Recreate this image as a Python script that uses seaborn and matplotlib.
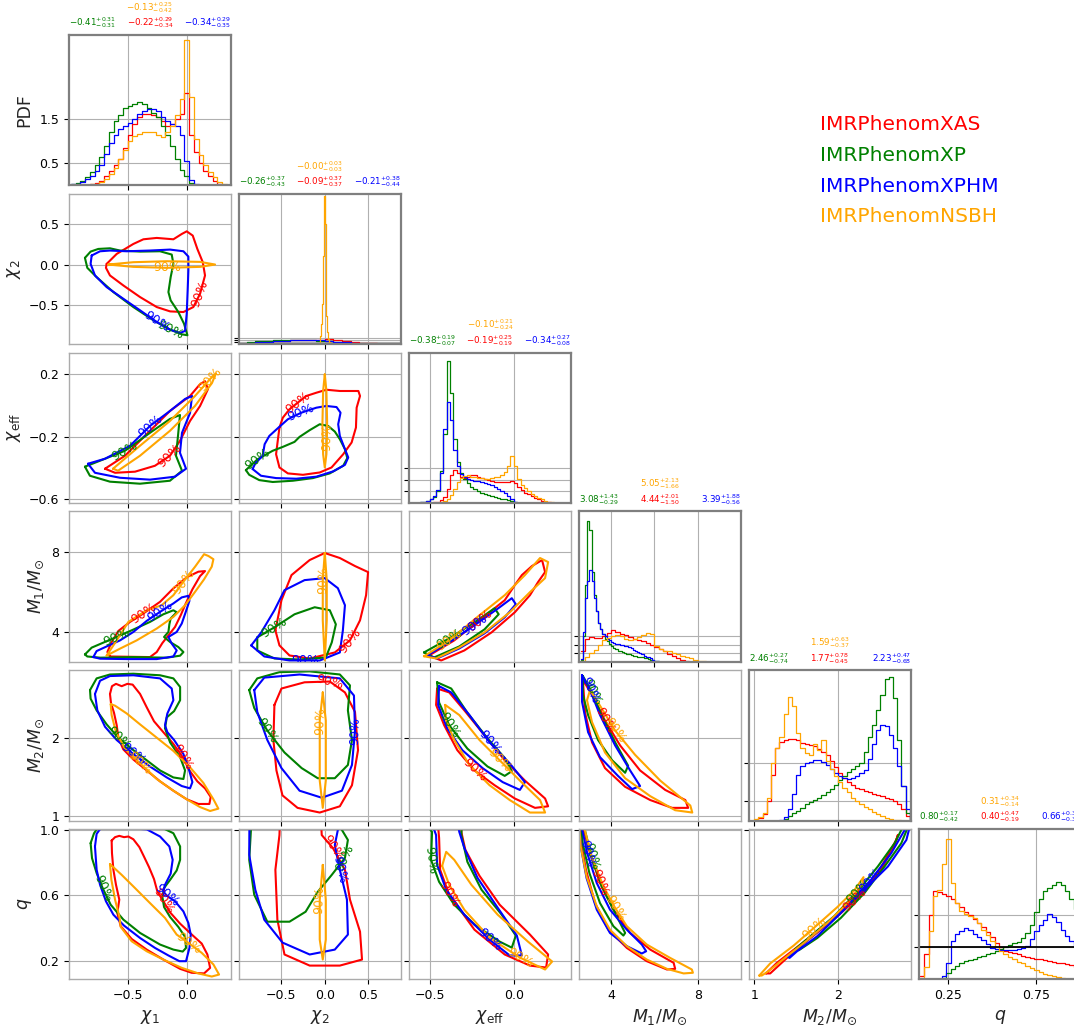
import numpy as np
import pandas as pd
import matplotlib
matplotlib.use("Agg")
import matplotlib.pyplot as plt
import seaborn as sns

sns.set_style("ticks")
plt.rcParams["font.family"] = ["DejaVu Sans"]
plt.rcParams["mathtext.fontset"] = "dejavusans"

# ---------------------------------------------------------------- data
KEYS = ["XAS", "XP", "XPHM", "NSBH"]
LEGEND_NAMES = ["IMRPhenomXAS", "IMRPhenomXP", "IMRPhenomXPHM", "IMRPhenomNSBH"]
SERIES_COLORS = ["red", "green", "blue", "orange"]
PARAM_LABELS = [r"$\chi_1$", r"$\chi_2$", r"$\chi_{\rm eff}$",
                r"$M_1/M_{\odot}$", r"$M_2/M_{\odot}$", r"$q$"]

# median, +upper, -lower
SUM_CHI1 = {"XAS": (-0.22, 0.29, 0.34), "XP": (-0.41, 0.31, 0.31),
            "XPHM": (-0.34, 0.29, 0.35), "NSBH": (-0.13, 0.25, 0.42)}
SUM_CHI2 = {"XAS": (-0.09, 0.37, 0.37), "XP": (-0.26, 0.37, 0.43),
            "XPHM": (-0.21, 0.38, 0.44), "NSBH": (-0.001, 0.03, 0.03)}
SUM_CHIEFF = {"XAS": (-0.19, 0.25, 0.19), "XP": (-0.38, 0.19, 0.07),
              "XPHM": (-0.34, 0.27, 0.08), "NSBH": (-0.10, 0.21, 0.24)}
SUM_M1 = {"XAS": (4.44, 2.01, 1.50), "XP": (3.08, 1.43, 0.29),
          "XPHM": (3.39, 1.88, 0.56), "NSBH": (5.05, 2.13, 1.66)}
SUM_M2 = {"XAS": (1.77, 0.78, 0.45), "XP": (2.46, 0.27, 0.74),
          "XPHM": (2.23, 0.47, 0.68), "NSBH": (1.59, 0.63, 0.37)}
SUM_Q = {"XAS": (0.40, 0.47, 0.19), "XP": (0.80, 0.17, 0.42),
         "XPHM": (0.66, 0.31, 0.38), "NSBH": (0.31, 0.34, 0.14)}

# histograms: (first bin edge, last bin edge, heights)
H_CHI1 = {
    "XAS": (-0.98, 0.38, [0, 0, 0, 0.01, 0.02, 0.05, 0.10, 0.20, 0.32, 0.45, 0.60, 0.85, 1.15, 1.40, 1.55, 1.62, 1.62,
                          1.60, 1.55, 1.45, 1.35, 1.40, 1.50, 1.62, 2.10, 1.15, 0.75, 0.50, 0.32, 0.20, 0.10, 0.03, 0.0, 0.0]),
    "XP": (-0.98, 0.38, [0.02, 0.05, 0.10, 0.18, 0.30, 0.45, 0.65, 0.90, 1.20, 1.45, 1.60, 1.75, 1.80, 1.85, 1.90, 1.85,
                         1.75, 1.65, 1.55, 1.35, 1.15, 0.90, 0.60, 0.35, 0.20, 0.05, 0.0, 0, 0, 0, 0, 0, 0, 0]),
    "XPHM": (-0.98, 0.38, [0.02, 0.04, 0.08, 0.14, 0.22, 0.32, 0.45, 0.70, 0.95, 1.15, 1.28, 1.35, 1.42, 1.50, 1.62, 1.68,
                           1.74, 1.72, 1.68, 1.55, 1.45, 1.40, 1.35, 1.15, 0.55, 0.12, 0.02, 0, 0, 0, 0, 0, 0, 0]),
    "NSBH": (-0.98, 0.38, [0, 0, 0, 0, 0.02, 0.04, 0.08, 0.15, 0.25, 0.40, 0.60, 0.80, 1.00, 1.12, 1.17, 1.20, 1.22, 1.20,
                           1.15, 1.10, 1.20, 1.35, 1.60, 1.95, 3.30, 2.00, 1.05, 0.68, 0.45, 0.30, 0.18, 0.08, 0.02, 0]),
}
H_CHI2 = {
    "XAS": (-1.0, 0.9, [0.03, 0.10, 0.25, 0.45, 0.65, 0.80, 0.90, 0.95, 0.98, 1.00, 1.30, 0.90, 0.75, 0.55, 0.35, 0.20,
                        0.08, 0.03, 0]),
    "XP": (-1.0, 0.9, [0.13, 0.40, 0.68, 0.88, 1.00, 1.08, 1.08, 1.05, 0.97, 0.88, 0.68, 0.47, 0.27, 0.14, 0.07, 0.03,
                       0, 0, 0]),
    "XPHM": (-1.0, 0.9, [0.08, 0.25, 0.45, 0.60, 0.75, 0.85, 0.90, 0.92, 0.92, 0.95, 0.85, 0.60, 0.40, 0.25, 0.12, 0.05,
                         0.02, 0, 0]),
    "NSBH": (-0.08, 0.08, [0.1, 0.3, 0.8, 2, 5, 10, 22, 37, 30, 16, 7, 3, 1.2, 0.5, 0.2, 0.1]),
}
H_CHIEFF = {
    "XAS": (-0.50, 0.24, [0.01, 0.03, 0.06, 0.12, 0.25, 0.60, 1.20, 1.45, 1.30, 1.15, 1.10, 1.15, 1.20, 1.22, 1.15, 1.08,
                          1.02, 0.98, 0.95, 0.92, 0.90, 0.90, 0.90, 0.92, 0.95, 0.85, 0.68, 0.55, 0.45, 0.38, 0.30, 0.22,
                          0.15, 0.10, 0.06, 0.03, 0.01]),
    "XP": (-0.56, 0.04, [0.02, 0.05, 0.10, 0.15, 0.25, 0.50, 1.40, 3.00, 6.20, 4.80, 2.80, 1.80, 1.30, 1.05, 0.85, 0.70,
                         0.60, 0.50, 0.42, 0.38, 0.33, 0.30, 0.26, 0.22, 0.18, 0.15, 0.12, 0.08, 0.04, 0.01]),
    "XPHM": (-0.56, 0.04, [0.02, 0.04, 0.08, 0.15, 0.30, 0.55, 1.30, 3.20, 4.40, 3.60, 2.30, 1.60, 1.25, 1.12, 1.05, 1.00,
                           0.97, 0.95, 0.92, 0.88, 0.82, 0.76, 0.70, 0.62, 0.52, 0.42, 0.30, 0.15, 0.06, 0.01]),
    "NSBH": (-0.46, 0.26, [0.01, 0.03, 0.08, 0.18, 0.35, 0.60, 0.90, 1.10, 1.18, 1.20, 1.15, 1.12, 1.10, 1.08, 1.05, 1.05,
                           1.08, 1.12, 1.15, 1.20, 1.35, 1.60, 2.05, 1.60, 1.05, 0.80, 0.65, 0.50, 0.38, 0.30, 0.22, 0.15,
                           0.10, 0.05, 0.02, 0.01]),
}
H_M1 = {
    "XAS": (2.6, 7.6, [0.12, 0.27, 0.29, 0.28, 0.28, 0.30, 0.34, 0.37, 0.35, 0.33, 0.31, 0.29, 0.27, 0.25, 0.24, 0.22,
                       0.20, 0.17, 0.15, 0.12, 0.095, 0.07, 0.045, 0.025, 0.01]),
    "XP": (2.6, 6.2, [0.02, 0.30, 0.90, 1.65, 1.55, 1.05, 0.78, 0.60, 0.45, 0.38, 0.32, 0.27, 0.24, 0.21, 0.18, 0.16,
                      0.15, 0.13, 0.12, 0.11, 0.10, 0.09, 0.085, 0.08, 0.07, 0.065, 0.06, 0.055, 0.05, 0.045, 0.04,
                      0.035, 0.025, 0.018, 0.01, 0.005]),
    "XPHM": (2.6, 6.2, [0.03, 0.35, 0.75, 0.95, 1.08, 0.95, 0.75, 0.60, 0.45, 0.38, 0.33, 0.30, 0.27, 0.25, 0.23, 0.22,
                        0.21, 0.21, 0.20, 0.20, 0.19, 0.18, 0.17, 0.16, 0.14, 0.13, 0.11, 0.10, 0.09, 0.07, 0.06, 0.05,
                        0.04, 0.025, 0.012, 0.004]),
    "NSBH": (2.6, 8.6, [0.01, 0.06, 0.10, 0.14, 0.20, 0.25, 0.28, 0.30, 0.31, 0.30, 0.27, 0.25, 0.27, 0.29, 0.31, 0.34,
                        0.32, 0.18, 0.15, 0.13, 0.12, 0.10, 0.09, 0.07, 0.055, 0.04, 0.02, 0.01, 0.005, 0.002]),
}
H_M2 = {
    "XAS": (0.95, 2.9, [0, 0.01, 0.03, 0.08, 0.25, 0.60, 0.95, 1.03, 1.06, 1.07, 1.07, 1.05, 1.02, 1.00, 0.99, 0.97,
                        0.94, 0.90, 0.86, 0.78, 0.70, 0.62, 0.56, 0.50, 0.46, 0.43, 0.41, 0.39, 0.37, 0.35, 0.33, 0.32,
                        0.30, 0.28, 0.26, 0.22, 0.15, 0.06, 0.01]),
    "XP": (0.95, 2.9, [0, 0, 0, 0, 0, 0, 0, 0, 0.02, 0.06, 0.10, 0.13, 0.17, 0.21, 0.24, 0.27, 0.30, 0.33, 0.37, 0.41,
                       0.47, 0.53, 0.58, 0.63, 0.68, 0.72, 0.76, 0.90, 1.10, 1.25, 1.45, 1.65, 1.85, 1.88, 1.60, 1.05,
                       0.45, 0.10, 0.01]),
    "XPHM": (0.95, 2.9, [0, 0, 0, 0, 0, 0, 0, 0.01, 0.05, 0.15, 0.35, 0.60, 0.72, 0.75, 0.77, 0.79, 0.79, 0.77, 0.73,
                         0.68, 0.62, 0.58, 0.56, 0.55, 0.56, 0.58, 0.62, 0.66, 0.80, 1.00, 1.18, 1.25, 1.24, 1.12, 0.95,
                         0.72, 0.45, 0.15, 0.02]),
    "NSBH": (0.95, 2.9, [0, 0.02, 0.04, 0.10, 0.30, 0.75, 0.95, 1.10, 1.40, 1.62, 1.50, 1.15, 0.95, 0.88, 0.86, 1.00,
                         0.92, 1.05, 0.78, 0.68, 0.58, 0.50, 0.42, 0.37, 0.30, 0.25, 0.22, 0.18, 0.15, 0.11, 0.08, 0.06,
                         0.03, 0.015, 0.01, 0.005, 0, 0, 0]),
}
H_Q = {
    "XAS": (0.09, 1.015, [0.10, 0.80, 2.00, 2.75, 2.72, 2.68, 2.60, 2.50, 2.38, 2.25, 2.12, 2.00, 1.88, 1.75, 1.62, 1.48,
                          1.32, 1.15, 1.00, 0.90, 0.85, 0.82, 0.78, 0.74, 0.71, 0.68, 0.65, 0.62, 0.60, 0.57, 0.55, 0.52,
                          0.50, 0.47, 0.44, 0.40, 0.38]),
    "XP": (0.09, 1.015, [0, 0, 0, 0, 0, 0.05, 0.20, 0.32, 0.42, 0.50, 0.56, 0.60, 0.65, 0.70, 0.74, 0.78, 0.82, 0.88,
                         0.94, 1.00, 1.07, 1.12, 1.17, 1.30, 1.45, 1.70, 2.10, 2.50, 2.75, 2.85, 2.95, 3.05, 2.95, 2.75,
                         2.50, 2.20, 1.90]),
    "XPHM": (0.09, 1.015, [0, 0, 0, 0, 0.02, 0.10, 0.50, 1.20, 1.42, 1.52, 1.60, 1.55, 1.42, 1.33, 1.22, 1.10, 0.98, 0.95,
                           0.93, 0.92, 0.92, 0.93, 0.94, 0.98, 1.05, 1.25, 1.50, 1.70, 1.85, 2.05, 1.95, 1.80, 1.55, 1.35,
                           1.20, 1.05, 0.90]),
    "NSBH": (0.09, 1.015, [0.05, 0.40, 1.50, 2.60, 2.80, 3.60, 4.40, 3.00, 2.40, 2.15, 2.05, 1.98, 1.92, 1.75, 1.55, 1.38,
                           1.20, 1.02, 0.90, 0.80, 0.70, 0.62, 0.55, 0.50, 0.42, 0.35, 0.29, 0.23, 0.18, 0.14, 0.10, 0.07,
                           0.04, 0.02, 0.01, 0, 0]),
}

# 90% credible contours (x, y)
CT_CHI2_CHI1 = {
    "XAS": [(-0.678, 0.008), (-0.593, 0.132), (-0.452, 0.256), (-0.367, 0.314), (-0.254, 0.331), (-0.113, 0.314),
            (-0.042, 0.380), (0.0, 0.413), (0.051, 0.36), (0.090, 0.194), (0.136, 0.029), (0.155, -0.136),
            (0.113, -0.364), (0.056, -0.529), (-0.028, -0.591), (-0.141, -0.583), (-0.254, -0.529), (-0.395, -0.405),
            (-0.537, -0.260), (-0.650, -0.136), (-0.684, -0.041)],
    "XP": [(-0.862, 0.083), (-0.814, 0.161), (-0.749, 0.194), (-0.650, 0.202), (-0.565, 0.174), (-0.395, 0.161),
           (-0.226, 0.165), (-0.127, 0.124), (-0.113, 0.008), (-0.136, -0.157), (-0.155, -0.343), (-0.136, -0.446),
           (-0.071, -0.591), (-0.023, -0.736), (0.006, -0.880), (-0.042, -0.868), (-0.141, -0.810), (-0.282, -0.694),
           (-0.452, -0.529), (-0.621, -0.343), (-0.763, -0.157), (-0.842, -0.041)],
    "XPHM": [(-0.805, 0.112), (-0.734, 0.165), (-0.650, 0.174), (-0.508, 0.165), (-0.311, 0.174), (-0.141, 0.186),
             (-0.028, 0.165), (0.014, 0.099), (0.014, -0.074), (0.008, -0.322), (0.0, -0.612), (-0.014, -0.826),
             (-0.056, -0.851), (-0.141, -0.810), (-0.254, -0.715), (-0.395, -0.570), (-0.537, -0.426), (-0.678, -0.281),
             (-0.777, -0.136), (-0.814, 0.008)],
    "NSBH": [(-0.664, 0.0), (-0.452, 0.029), (-0.169, 0.041), (0.113, 0.033), (0.240, 0.0), (0.113, -0.029),
             (-0.169, -0.041), (-0.452, -0.029)],
}
CT_CHIEFF_CHI1 = {
    "XAS": [(-0.692, -0.404), (-0.523, -0.321), (-0.311, -0.161), (-0.142, -0.034), (0.028, 0.062), (0.113, 0.138),
            (0.155, 0.157), (0.180, 0.106), (0.113, -0.002), (0.028, -0.098), (-0.057, -0.225), (-0.142, -0.321),
            (-0.269, -0.385), (-0.438, -0.423), (-0.607, -0.430)],
    "XP": [(-0.862, -0.391), (-0.735, -0.353), (-0.523, -0.289), (-0.311, -0.174), (-0.142, -0.085), (-0.057, -0.060),
           (-0.074, -0.194), (-0.091, -0.321), (-0.040, -0.417), (-0.142, -0.481), (-0.396, -0.500), (-0.650, -0.487),
           (-0.820, -0.449)],
    "XPHM": [(-0.836, -0.372), (-0.692, -0.340), (-0.480, -0.257), (-0.311, -0.130), (-0.142, -0.034), (-0.014, 0.043),
             (0.045, 0.062), (0.028, -0.047), (-0.040, -0.174), (-0.057, -0.302), (-0.006, -0.404), (-0.099, -0.455),
             (-0.311, -0.474), (-0.565, -0.462), (-0.777, -0.430)],
    "NSBH": [(-0.624, -0.404), (-0.396, -0.257), (-0.142, -0.098), (0.070, 0.062), (0.197, 0.170), (0.248, 0.208),
             (0.214, 0.145), (0.070, -0.002), (-0.142, -0.161), (-0.396, -0.321), (-0.582, -0.417)],
}
CT_CHIEFF_CHI2 = {
    "XAS": [(-0.523, -0.140), (-0.484, -0.077), (-0.407, -0.023), (-0.31, 0.02), (-0.213, 0.062), (-0.097, 0.083),
            (0.019, 0.102), (0.174, 0.094), (0.388, 0.094), (0.407, 0.062), (0.368, -0.013), (0.360, -0.140),
            (0.310, -0.236), (0.213, -0.311), (0.078, -0.396), (-0.058, -0.428), (-0.252, -0.443), (-0.426, -0.434),
            (-0.523, -0.396), (-0.562, -0.311), (-0.543, -0.226)],
    "XP": [(-0.911, -0.413), (-0.775, -0.343), (-0.601, -0.289), (-0.484, -0.264), (-0.349, -0.232), (-0.291, -0.200),
           (-0.174, -0.157), (-0.058, -0.119), (0.039, -0.130), (0.116, -0.166), (0.174, -0.215), (0.233, -0.279),
           (0.260, -0.336), (0.213, -0.385), (0.058, -0.434), (-0.136, -0.464), (-0.368, -0.481), (-0.601, -0.489),
           (-0.756, -0.477), (-0.872, -0.443)],
    "XPHM": [(-0.833, -0.406), (-0.802, -0.370), (-0.717, -0.321), (-0.694, -0.247), (-0.640, -0.194), (-0.543, -0.145),
             (-0.426, -0.087), (-0.271, -0.045), (-0.097, -0.013), (0.019, -0.002), (0.136, -0.009), (0.182, -0.045),
             (0.155, -0.119), (0.174, -0.194), (0.233, -0.279), (0.271, -0.332), (0.233, -0.379), (0.097, -0.421),
             (-0.097, -0.455), (-0.329, -0.468), (-0.562, -0.464), (-0.736, -0.449)],
    "NSBH": [(0.0, 0.2), (0.019, 0.094), (0.027, -0.1), (0.025, -0.2), (0.019, -0.311), (0.0, -0.396), (-0.019, -0.311),
             (-0.027, -0.119), (-0.019, 0.094)],
}
CT_M1_CHI1 = {
    "XAS": [(-0.650, 2.78), (-0.311, 2.75), (-0.254, 3.00), (-0.206, 3.45), (-0.155, 3.83), (-0.099, 4.25),
            (-0.051, 4.83), (-0.008, 5.42), (0.048, 6.12), (0.113, 6.78), (0.155, 7.03), (0.099, 7.00), (0.0, 6.72),
            (-0.113, 6.17), (-0.226, 5.50), (-0.367, 4.92), (-0.480, 4.50), (-0.579, 4.05), (-0.636, 3.50),
            (-0.672, 3.00)],
    "XP": [(-0.862, 2.88), (-0.805, 3.22), (-0.706, 3.47), (-0.593, 3.75), (-0.452, 4.12), (-0.311, 4.50),
           (-0.198, 4.88), (-0.113, 5.08), (-0.085, 4.98), (-0.136, 4.67), (-0.147, 4.38), (-0.155, 4.00),
           (-0.192, 3.75), (-0.141, 3.50), (-0.071, 3.25), (-0.028, 3.00), (-0.056, 2.82), (-0.169, 2.72),
           (-0.452, 2.75), (-0.734, 2.72), (-0.842, 2.78)],
    "XPHM": [(-0.791, 2.75), (-0.763, 3.05), (-0.678, 3.28), (-0.565, 3.58), (-0.452, 4.00), (-0.339, 4.55),
             (-0.226, 5.00), (-0.113, 5.42), (-0.042, 5.72), (0.014, 5.80), (0.023, 5.55), (-0.008, 5.00),
             (-0.042, 4.42), (-0.085, 4.00), (-0.155, 3.75), (-0.127, 3.42), (-0.085, 3.08), (-0.113, 2.78),
             (-0.254, 2.65), (-0.508, 2.65), (-0.734, 2.67)],
    "NSBH": [(-0.678, 2.83), (-0.593, 3.58), (-0.494, 4.50), (-0.339, 5.08), (-0.212, 5.33), (-0.113, 5.83),
             (-0.028, 6.50), (0.071, 7.25), (0.147, 7.87), (0.184, 7.78), (0.226, 7.62), (0.212, 7.25), (0.147, 6.62),
             (0.071, 6.00), (-0.014, 5.33), (-0.113, 4.75), (-0.254, 4.17), (-0.424, 3.58), (-0.565, 3.17),
             (-0.664, 2.87)],
}
CT_M1_CHI2 = {
    "XAS": [(-0.570, 4.08), (-0.50, 5.58), (-0.384, 6.83), (-0.174, 7.58), (0.0, 7.93), (0.174, 7.68), (0.349, 7.28),
            (0.50, 6.98), (0.477, 5.83), (0.407, 4.58), (0.291, 3.58), (0.116, 2.98), (-0.174, 2.68), (-0.407, 2.83),
            (-0.523, 3.33)],
    "XP": [(-0.779, 3.73), (-0.581, 4.23), (-0.349, 4.88), (-0.116, 5.23), (0.058, 5.08), (0.128, 4.38), (0.081, 3.48),
           (0.012, 2.73), (-0.291, 2.63), (-0.581, 2.68), (-0.779, 3.08)],
    "XPHM": [(-0.849, 3.33), (-0.733, 3.98), (-0.581, 5.08), (-0.465, 6.08), (-0.233, 6.58), (0.0, 6.68), (0.151, 6.18),
             (0.233, 5.33), (0.209, 4.08), (0.174, 2.98), (-0.058, 2.58), (-0.23, 2.58), (-0.407, 2.58),
             (-0.698, 2.78)],
    "NSBH": [(0.0, 7.93), (0.023, 6.58), (0.023, 4.58), (0.0, 2.58), (-0.023, 4.58), (-0.023, 6.58)],
}
CT_M1_CHIEFF = {
    "XAS": [(-0.504, 2.83), (-0.354, 3.58), (-0.204, 4.58), (-0.054, 5.58), (0.006, 6.33), (0.048, 6.83), (0.108, 7.28),
            (0.168, 7.58), (0.186, 6.98), (0.144, 6.48), (0.096, 5.83), (0.006, 4.98), (-0.132, 3.98), (-0.294, 3.08),
            (-0.432, 2.58)],
    "XP": [(-0.534, 2.98), (-0.384, 3.68), (-0.234, 4.48), (-0.114, 5.18), (-0.090, 4.88), (-0.174, 4.13),
           (-0.324, 3.28), (-0.474, 2.73)],
    "XPHM": [(-0.516, 2.83), (-0.384, 3.48), (-0.234, 4.33), (-0.084, 5.23), (-0.012, 5.68), (0.012, 5.38),
             (-0.054, 4.73), (-0.174, 3.93), (-0.324, 3.18), (-0.456, 2.68)],
    "NSBH": [(-0.534, 2.79), (-0.384, 3.58), (-0.204, 4.83), (-0.054, 5.83), (0.066, 6.83), (0.156, 7.68),
             (0.204, 7.48), (0.186, 6.68), (0.096, 5.98), (-0.024, 4.98), (-0.174, 3.98), (-0.324, 3.23),
             (-0.462, 2.68)],
}
CT_M2_CHI1 = {
    "XAS": [(-0.650, 2.56), (-0.633, 2.66), (-0.599, 2.69), (-0.551, 2.66), (-0.503, 2.69), (-0.458, 2.68),
            (-0.395, 2.56), (-0.339, 2.39), (-0.277, 2.21), (-0.198, 2.07), (-0.113, 1.92), (-0.034, 1.75),
            (0.023, 1.58), (0.090, 1.44), (0.155, 1.35), (0.203, 1.24), (0.192, 1.15), (0.099, 1.15), (0.0, 1.21),
            (-0.113, 1.32), (-0.226, 1.44), (-0.339, 1.58), (-0.452, 1.72), (-0.537, 1.85), (-0.579, 2.00),
            (-0.593, 2.16), (-0.616, 2.32), (-0.641, 2.44)],
    "XP": [(-0.819, 2.61), (-0.763, 2.76), (-0.650, 2.81), (-0.452, 2.82), (-0.226, 2.80), (-0.113, 2.76),
           (-0.056, 2.65), (-0.056, 2.48), (-0.107, 2.34), (-0.169, 2.26), (-0.184, 2.12), (-0.141, 1.94),
           (-0.056, 1.75), (-0.014, 1.58), (-0.028, 1.47), (-0.113, 1.49), (-0.226, 1.58), (-0.339, 1.71),
           (-0.452, 1.84), (-0.579, 2.00), (-0.678, 2.17), (-0.763, 2.35), (-0.814, 2.50)],
    "XPHM": [(-0.777, 2.56), (-0.734, 2.73), (-0.650, 2.79), (-0.452, 2.80), (-0.226, 2.76), (-0.127, 2.63),
             (-0.113, 2.48), (-0.164, 2.31), (-0.184, 2.16), (-0.164, 2.07), (-0.107, 1.97), (-0.028, 1.79),
             (0.014, 1.62), (0.048, 1.43), (0.028, 1.35), (-0.042, 1.38), (-0.169, 1.49), (-0.311, 1.63),
             (-0.452, 1.79), (-0.593, 1.97), (-0.692, 2.14), (-0.757, 2.35)],
    "NSBH": [(-0.644, 2.43), (-0.607, 2.41), (-0.508, 2.31), (-0.395, 2.17), (-0.254, 2.00), (-0.113, 1.83),
             (0.028, 1.62), (0.141, 1.42), (0.226, 1.21), (0.268, 1.09), (0.198, 1.06), (0.113, 1.11), (0.0, 1.21),
             (-0.113, 1.32), (-0.254, 1.47), (-0.395, 1.67), (-0.523, 1.86), (-0.599, 2.07), (-0.636, 2.29)],
}
CT_M2_CHI2 = {
    "XAS": [(-0.581, 2.42), (-0.50, 2.63), (-0.233, 2.71), (0.058, 2.72), (0.233, 2.58), (0.349, 2.33), (0.384, 1.84),
            (0.314, 1.39), (0.174, 1.12), (-0.058, 1.04), (-0.314, 1.10), (-0.488, 1.26), (-0.558, 1.58),
            (-0.593, 1.97)],
    "XP": [(-0.872, 2.61), (-0.779, 2.76), (-0.523, 2.84), (-0.174, 2.85), (0.174, 2.81), (0.291, 2.67), (0.267, 2.35),
           (0.314, 1.97), (0.267, 1.65), (0.116, 1.48), (-0.081, 1.48), (-0.267, 1.61), (-0.465, 1.81),
           (-0.663, 2.09), (-0.814, 2.38)],
    "XPHM": [(-0.814, 2.61), (-0.698, 2.77), (-0.291, 2.81), (0.174, 2.76), (0.337, 2.54), (0.349, 2.09), (0.314, 1.65),
             (0.198, 1.32), (-0.035, 1.23), (-0.291, 1.32), (-0.50, 1.61), (-0.663, 1.97), (-0.779, 2.33)],
    "NSBH": [(-0.023, 2.58), (0.012, 2.22), (0.012, 1.45), (-0.023, 1.10), (-0.058, 1.45), (-0.058, 2.22)],
}
CT_M2_CHIEFF = {
    "XAS": [(-0.456, 2.63), (-0.384, 2.58), (-0.294, 2.35), (-0.174, 2.03), (-0.054, 1.71), (0.066, 1.45),
            (0.186, 1.22), (0.204, 1.12), (0.126, 1.10), (0.006, 1.22), (-0.114, 1.39), (-0.234, 1.58),
            (-0.336, 1.84), (-0.414, 2.16), (-0.462, 2.42)],
    "XP": [(-0.456, 2.71), (-0.372, 2.63), (-0.276, 2.32), (-0.156, 1.99), (-0.054, 1.74), (-0.012, 1.57),
           (-0.054, 1.51), (-0.156, 1.63), (-0.276, 1.86), (-0.384, 2.16), (-0.444, 2.45)],
    "XPHM": [(-0.444, 2.66), (-0.372, 2.58), (-0.264, 2.29), (-0.144, 1.94), (-0.024, 1.67), (0.066, 1.43),
             (0.036, 1.33), (-0.066, 1.43), (-0.186, 1.61), (-0.306, 1.84), (-0.396, 2.12), (-0.450, 2.42)],
    "NSBH": [(-0.408, 2.42), (-0.324, 2.29), (-0.204, 1.97), (-0.084, 1.71), (0.036, 1.45), (0.156, 1.20),
             (0.186, 1.04), (0.096, 1.04), (-0.024, 1.20), (-0.144, 1.39), (-0.264, 1.65), (-0.354, 1.97),
             (-0.402, 2.22)],
}
CT_M2_M1 = {
    "XAS": [(2.70, 2.74), (3.12, 2.55), (3.72, 2.22), (4.42, 1.90), (5.34, 1.58), (6.50, 1.33), (7.43, 1.20),
            (7.56, 1.10), (6.82, 1.10), (5.81, 1.20), (4.65, 1.37), (3.72, 1.61), (3.12, 1.94), (2.80, 2.32)],
    "XP": [(2.70, 2.79), (3.12, 2.58), (3.63, 2.25), (4.19, 1.94), (4.79, 1.64), (4.65, 1.55), (4.05, 1.71),
           (3.40, 1.97), (2.94, 2.29), (2.70, 2.55)],
    "XPHM": [(2.66, 2.80), (3.03, 2.61), (3.49, 2.29), (4.19, 1.90), (4.88, 1.58), (5.34, 1.38), (4.97, 1.34),
             (4.32, 1.51), (3.49, 1.75), (2.94, 2.07), (2.66, 2.46)],
    "NSBH": [(3.03, 2.61), (3.49, 2.41), (4.19, 2.09), (5.11, 1.78), (6.27, 1.45), (7.66, 1.13), (7.75, 1.04),
             (6.96, 1.07), (5.81, 1.25), (4.65, 1.48), (3.72, 1.81), (3.12, 2.20), (2.89, 2.48)],
}
CT_Q_CHI1 = {
    "XAS": [(-0.636, 0.935), (-0.607, 0.956), (-0.571, 0.964), (-0.531, 0.956), (-0.494, 0.960), (-0.452, 0.943),
            (-0.401, 0.895), (-0.362, 0.837), (-0.319, 0.772), (-0.277, 0.699), (-0.249, 0.624), (-0.198, 0.563),
            (-0.136, 0.491), (-0.056, 0.426), (0.028, 0.369), (0.127, 0.304), (0.175, 0.237), (0.198, 0.155),
            (0.147, 0.121), (0.042, 0.125), (-0.056, 0.149), (-0.198, 0.206), (-0.339, 0.267), (-0.466, 0.332),
            (-0.559, 0.410), (-0.588, 0.491), (-0.571, 0.573), (-0.599, 0.664), (-0.621, 0.756), (-0.633, 0.858)],
    "XP": [(-0.814, 0.919), (-0.785, 0.980), (-0.746, 1.02), (-0.593, 1.02), (-0.226, 1.02), (-0.113, 0.980),
           (-0.056, 0.899), (-0.056, 0.817), (-0.085, 0.752), (-0.136, 0.699), (-0.192, 0.644), (-0.206, 0.589),
           (-0.192, 0.528), (-0.141, 0.467), (-0.071, 0.406), (-0.014, 0.345), (-0.006, 0.277), (-0.034, 0.255),
           (-0.113, 0.267), (-0.226, 0.298), (-0.395, 0.369), (-0.537, 0.451), (-0.644, 0.542), (-0.712, 0.644),
           (-0.763, 0.736), (-0.802, 0.827)],
    "XPHM": [(-0.777, 0.899), (-0.763, 0.976), (-0.720, 1.02), (-0.339, 1.004), (-0.226, 0.960), (-0.147, 0.899),
             (-0.119, 0.817), (-0.136, 0.732), (-0.184, 0.664), (-0.198, 0.624), (-0.169, 0.597), (-0.099, 0.563),
             (-0.028, 0.501), (0.014, 0.430), (0.034, 0.359), (0.023, 0.277), (-0.006, 0.196), (-0.062, 0.196),
             (-0.155, 0.231), (-0.268, 0.277), (-0.395, 0.338), (-0.531, 0.414), (-0.621, 0.481), (-0.684, 0.563),
             (-0.734, 0.664), (-0.763, 0.756)],
    "NSBH": [(-0.650, 0.791), (-0.551, 0.725), (-0.438, 0.644), (-0.311, 0.552), (-0.184, 0.461), (-0.085, 0.359),
             (0.014, 0.308), (0.127, 0.247), (0.226, 0.176), (0.274, 0.114), (0.212, 0.102), (0.099, 0.121),
             (-0.042, 0.155), (-0.198, 0.206), (-0.339, 0.257), (-0.466, 0.318), (-0.559, 0.406), (-0.571, 0.471),
             (-0.607, 0.573), (-0.638, 0.695)],
}
CT_Q_CHI2 = {
    "XAS": [(-0.52, 1.02), (-0.523, 0.969), (-0.570, 0.756), (-0.547, 0.450), (-0.465, 0.237), (-0.174, 0.169),
            (0.174, 0.169), (0.430, 0.206), (0.407, 0.377), (0.291, 0.573), (0.233, 0.756), (0.093, 0.890),
            (-0.035, 0.969), (-0.04, 1.02)],
    "XP": [(-0.85, 1.02), (-0.872, 0.817), (-0.814, 0.603), (-0.663, 0.438), (-0.407, 0.438), (-0.221, 0.499),
           (-0.081, 0.621), (0.081, 0.725), (0.233, 0.829), (0.267, 0.939), (0.198, 1.0), (0.2, 1.02)],
    "XPHM": [(-0.87, 1.02), (-0.872, 0.847), (-0.802, 0.634), (-0.698, 0.450), (-0.488, 0.310), (-0.174, 0.237),
             (0.116, 0.267), (0.267, 0.359), (0.256, 0.573), (0.174, 0.756), (0.116, 0.908), (0.151, 1.0),
             (0.15, 1.02)],
    "NSBH": [(-0.023, 0.786), (0.012, 0.573), (0.012, 0.328), (-0.023, 0.206), (-0.058, 0.328), (-0.058, 0.573)],
}
CT_Q_CHIEFF = {
    "XAS": [(-0.45, 1.02), (-0.444, 0.951), (-0.438, 0.756), (-0.384, 0.603), (-0.234, 0.389), (-0.054, 0.237),
            (0.096, 0.169), (0.192, 0.157), (0.204, 0.237), (0.096, 0.359), (-0.084, 0.542), (-0.204, 0.719),
            (-0.288, 0.878), (-0.312, 0.988), (-0.31, 1.02)],
    "XP": [(-0.51, 1.02), (-0.486, 0.988), (-0.492, 0.817), (-0.444, 0.682), (-0.354, 0.542), (-0.234, 0.420),
           (-0.084, 0.316), (-0.012, 0.279), (0.012, 0.353), (-0.072, 0.481), (-0.192, 0.634), (-0.276, 0.805),
           (-0.312, 0.969), (-0.31, 1.02)],
    "XPHM": [(-0.48, 1.02), (-0.462, 0.969), (-0.456, 0.786), (-0.402, 0.634), (-0.294, 0.481), (-0.144, 0.328),
             (-0.024, 0.231), (0.048, 0.231), (0.018, 0.353), (-0.096, 0.524), (-0.216, 0.707), (-0.294, 0.890),
             (-0.324, 0.988), (-0.33, 1.02)],
    "NSBH": [(-0.426, 0.780), (-0.384, 0.664), (-0.294, 0.511), (-0.144, 0.340), (0.036, 0.218), (0.186, 0.145),
             (0.228, 0.194), (0.084, 0.316), (-0.096, 0.481), (-0.252, 0.664), (-0.354, 0.817), (-0.402, 0.866)],
}
CT_Q_M1 = {
    "XAS": [(2.69, 1.02), (3.03, 0.858), (3.49, 0.675), (4.11, 0.512), (4.88, 0.369), (5.81, 0.267), (6.89, 0.186),
            (6.96, 0.149), (6.58, 0.145), (5.65, 0.196), (4.73, 0.277), (3.88, 0.389), (3.26, 0.552), (2.84, 0.756),
            (2.60, 0.939), (2.56, 1.02)],
    "XP": [(2.75, 1.02), (3.10, 0.837), (3.57, 0.654), (4.19, 0.491), (4.65, 0.369), (4.57, 0.353), (4.11, 0.410),
           (3.49, 0.552), (3.00, 0.736), (2.69, 0.919), (2.63, 1.02)],
    "XPHM": [(2.64, 1.02), (2.90, 0.858), (3.34, 0.675), (3.95, 0.512), (4.73, 0.389), (5.42, 0.298), (5.62, 0.257),
             (5.42, 0.243), (4.73, 0.288), (3.95, 0.369), (3.34, 0.512), (2.87, 0.705), (2.60, 0.899), (2.53, 1.02)],
    "NSBH": [(2.75, 1.02), (3.10, 0.837), (3.65, 0.654), (4.19, 0.522), (4.73, 0.410), (5.65, 0.298), (6.73, 0.216),
             (7.73, 0.145), (7.78, 0.125), (7.35, 0.121), (6.58, 0.149), (5.65, 0.206), (4.73, 0.288), (3.95, 0.389),
             (3.34, 0.532), (2.87, 0.715), (2.60, 0.899), (2.53, 1.02)],
}
CT_Q_M2 = {
    "XAS": [(1.14, 0.121), (1.27, 0.186), (1.55, 0.298), (1.87, 0.430), (2.19, 0.573), (2.47, 0.736), (2.69, 0.939),
            (2.71, 0.970), (2.67, 0.909), (2.51, 0.756), (2.27, 0.603), (1.99, 0.471), (1.67, 0.338), (1.39, 0.216),
            (1.19, 0.121)],
    "XP": [(1.49, 0.271), (1.67, 0.349), (1.95, 0.471), (2.23, 0.624), (2.47, 0.776), (2.67, 0.919), (2.77, 1.02),
           (2.83, 1.02), (2.75, 0.919), (2.55, 0.776), (2.31, 0.613), (2.03, 0.461), (1.75, 0.338), (1.53, 0.263)],
    "XPHM": [(1.40, 0.222), (1.55, 0.288), (1.83, 0.410), (2.11, 0.542), (2.39, 0.695), (2.63, 0.858), (2.79, 1.00),
             (2.85, 1.02), (2.81, 0.939), (2.59, 0.776), (2.29, 0.624), (2.01, 0.481), (1.75, 0.349), (1.51, 0.257),
             (1.42, 0.216)],
    "NSBH": [(1.06, 0.108), (1.19, 0.182), (1.47, 0.292), (1.71, 0.400), (1.99, 0.528), (2.19, 0.630), (2.30, 0.711),
             (2.29, 0.670), (2.11, 0.552), (1.87, 0.430), (1.63, 0.324), (1.39, 0.226), (1.17, 0.135), (1.09, 0.108)],
}

# ---------------------------------------------------------------- layout / style
HISTS = [H_CHI1, H_CHI2, H_CHIEFF, H_M1, H_M2, H_Q]
SUMS = [SUM_CHI1, SUM_CHI2, SUM_CHIEFF, SUM_M1, SUM_M2, SUM_Q]
CONTOURS = {
    (1, 0): CT_CHI2_CHI1,
    (2, 0): CT_CHIEFF_CHI1, (2, 1): CT_CHIEFF_CHI2,
    (3, 0): CT_M1_CHI1, (3, 1): CT_M1_CHI2, (3, 2): CT_M1_CHIEFF,
    (4, 0): CT_M2_CHI1, (4, 1): CT_M2_CHI2, (4, 2): CT_M2_CHIEFF, (4, 3): CT_M2_M1,
    (5, 0): CT_Q_CHI1, (5, 1): CT_Q_CHI2, (5, 2): CT_Q_CHIEFF, (5, 3): CT_Q_M1, (5, 4): CT_Q_M2,
}
# vertex index of each contour where its "90%" label sits
LABEL_VERTEX = {
    (1, 0): {"XAS": 12, "XP": 16, "XPHM": 14, "NSBH": 6},
    (2, 0): {"XAS": 11, "XP": 2, "XPHM": 3, "NSBH": 4},
    (2, 1): {"XAS": 3, "XP": 1, "XPHM": 7, "NSBH": 3},
    (3, 0): {"XAS": 15, "XP": 3, "XPHM": 6, "NSBH": 6},
    (3, 1): {"XAS": 10, "XP": 1, "XPHM": 11, "NSBH": 5},
    (3, 2): {"XAS": 2, "XP": 1, "XPHM": 2, "NSBH": 1},
    (4, 0): {"XAS": 11, "XP": 19, "XPHM": 18, "NSBH": 15},
    (4, 1): {"XAS": 3, "XP": 13, "XPHM": 5, "NSBH": 5},
    (4, 2): {"XAS": 11, "XP": 9, "XPHM": 3, "NSBH": 3},
    (4, 3): {"XAS": 2, "XP": 1, "XPHM": 1, "NSBH": 2},
    (5, 0): {"XAS": 11, "XP": 23, "XPHM": 10, "NSBH": 6},
    (5, 1): {"XAS": 11, "XP": 8, "XPHM": 9, "NSBH": 5},
    (5, 2): {"XAS": 3, "XP": 2, "XPHM": 5, "NSBH": 4},
    (5, 3): {"XAS": 2, "XP": 1, "XPHM": 1, "NSBH": 3},
    (5, 4): {"XAS": 4, "XP": 3, "XPHM": 4, "NSBH": 3},
}

LIMS = [(-0.997, 0.375), (-0.99, 0.88), (-0.623, 0.34), (2.52, 10.0), (0.938, 2.865), (0.085, 1.006)]
XTICKS = [[-0.5, 0.0], [-0.5, 0.0, 0.5], [-0.5, 0.0], [4, 8], [1, 2], [0.25, 0.75]]
YTICKS = [[], [-0.5, 0.0, 0.5], [-0.6, -0.2, 0.2], [4, 8], [1, 2], [0.2, 0.6, 1.0]]
DIAG_XTICKS = [[-0.5, 0.0], [-0.5, 0.0, 0.5], [-0.5, 0.0], [4, 6, 8], [1, 2], [0.25, 0.75]]
DIAG_YTICKS = [[0.5, 1.5], [0.5, 1.0, 1.5], [0.5, 1.0, 1.5], [0.1, 0.2, 0.3], [0.25, 0.75], [1, 2]]
DIAG_YMAX = [3.41, 37.5, 6.55, 1.765, 1.97, 4.7]

W, H = 1074, 1027
COL_LEFT = [69, 239, 409, 579, 749, 919]
ROW_TOP = [35, 193.8, 352.6, 511.4, 670.2, 829]
PW, PH = 162, 150.3

fig = plt.figure(figsize=(W / 100, H / 100), dpi=100)


def panel(r, c):
    return fig.add_axes([COL_LEFT[c] / W, 1 - (ROW_TOP[r] + PH) / H, PW / W, PH / H])


def style(ax, diag, r, c):
    ax.grid(True, color="#b0b0b0", lw=0.8)
    for s in ax.spines.values():
        s.set_color("#7f7f7f" if diag else "#ababab")
        s.set_linewidth(1.6 if diag else 1.0)
    ax.tick_params(direction="out", length=3.5, width=0.8, color="black",
                   labelcolor="black", labelsize=9)
    ax.tick_params(axis="y", labelleft=(c == 0))
    ax.tick_params(axis="x", labelbottom=(r == 5))
    ax.set_xlabel(PARAM_LABELS[c] if r == 5 else "", fontsize=12.5)
    if c == 0:
        ax.set_ylabel("PDF" if r == 0 else PARAM_LABELS[r], fontsize=12.5)
    else:
        ax.set_ylabel("")


def annotate(ax, summ):
    fmt = lambda v: r"$%.2f^{+%.2f}_{-%.2f}$" % v
    kw = dict(transform=ax.transAxes, va="bottom", fontsize=6.3)
    ax.text(0.0, 1.03, fmt(summ["XP"]), color="green", ha="left", **kw)
    ax.text(0.5, 1.03, fmt(summ["XAS"]), color="red", ha="center", **kw)
    ax.text(1.0, 1.03, fmt(summ["XPHM"]), color="blue", ha="right", **kw)
    ax.text(0.5, 1.135, fmt(summ["NSBH"]), color="orange", ha="center", **kw)


def label_contour(ax, pts, idx, color):
    n = len(pts)
    p0 = ax.transData.transform(pts[(idx - 1) % n])
    p1 = ax.transData.transform(pts[(idx + 1) % n])
    ang = np.degrees(np.arctan2(p1[1] - p0[1], p1[0] - p0[0]))
    if ang > 90:
        ang -= 180
    if ang < -90:
        ang += 180
    ax.text(pts[idx][0], pts[idx][1], "90%", color=color, fontsize=9, rotation=ang,
            rotation_mode="anchor", ha="center", va="center", clip_on=True)


for r in range(6):
    for c in range(r + 1):
        ax = panel(r, c)
        if r == c:
            hist = HISTS[r]
            for key, color in zip(KEYS, SERIES_COLORS):
                lo, hi, vals = hist[key]
                nb = len(vals)
                edges = np.linspace(lo, hi, nb + 1)
                df = pd.DataFrame({"x": 0.5 * (edges[:-1] + edges[1:]), "w": vals})
                sns.histplot(data=df, x="x", weights="w", bins=nb, binrange=(lo, hi),
                             element="step", fill=False, color=color, linewidth=0.9, ax=ax)
            if r == 5:
                ax.axhline(1.0, color="black", lw=1.3)
            ax.set_xlim(LIMS[c])
            ax.set_ylim(0, DIAG_YMAX[r])
            ax.set_xticks(DIAG_XTICKS[c])
            ax.set_yticks(DIAG_YTICKS[r])
            annotate(ax, SUMS[r])
            style(ax, True, r, c)
        else:
            cont = CONTOURS[(r, c)]
            for key, color in zip(KEYS, SERIES_COLORS):
                pts = np.array(cont[key])
                closed = np.vstack([pts, pts[:1]])
                ax.plot(closed[:, 0], closed[:, 1], color=color, lw=1.5,
                        solid_joinstyle="round")
            ax.set_xlim(LIMS[c])
            ax.set_ylim(LIMS[r])
            ax.set_xticks(XTICKS[c])
            ax.set_yticks(YTICKS[r])
            style(ax, False, r, c)
            for key, color in zip(KEYS, SERIES_COLORS):
                label_contour(ax, cont[key], LABEL_VERTEX[(r, c)][key], color)

LEGEND_Y = [125, 155.5, 186, 216.5]
for name, color, y in zip(LEGEND_NAMES, SERIES_COLORS, LEGEND_Y):
    fig.text(820 / W, 1 - y / H, name, color=color, fontsize=14.5, ha="left", va="center")

fig.savefig("out.png", dpi=100)
